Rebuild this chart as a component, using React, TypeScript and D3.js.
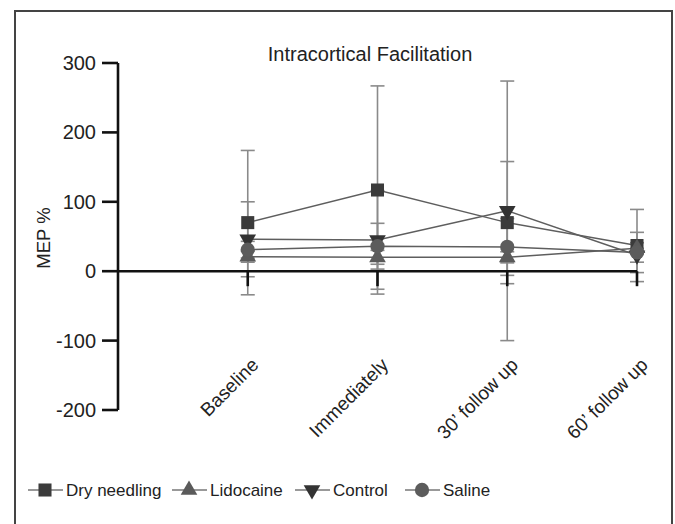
import React from 'react';
import * as d3 from 'd3';

const categories = ['Baseline', 'Immediately', '30\u2019 follow up', '60\u2019 follow up'];
const yTicks = [-200, -100, 0, 100, 200, 300];

const dryNeedling = [70, 117, 70, 37];
const dryNeedlingSd = [104, 150, 88, 52];
const lidocaine = [21, 20, 20, 33];
const lidocaineSd = [8, 10, 8, 8];
const control = [46, 45, 87, 23];
const controlSd = [54, 71, 187, 10];
const saline = [31, 36, 35, 27];
const salineSd = [12, 33, 41, 29];

const W = 675, H = 524;
const font = '"Liberation Sans", Arial, Helvetica, sans-serif';

const series = [
    { name: 'Dry needling', values: dryNeedling, sd: dryNeedlingSd, symbol: d3.symbolSquare, size: 170, rotate: 0, fill: '#3b3b3b' },
    { name: 'Lidocaine', values: lidocaine, sd: lidocaineSd, symbol: d3.symbolTriangle, size: 120, rotate: 0, fill: '#5a5a5a' },
    { name: 'Control', values: control, sd: controlSd, symbol: d3.symbolTriangle, size: 120, rotate: 180, fill: '#333' },
    { name: 'Saline', values: saline, sd: salineSd, symbol: d3.symbolCircle, size: 160, rotate: 0, fill: '#5c5c5c' },
];

const x = d3.scaleLinear().domain([0, 4]).range([118, 637]);
const y = d3.scaleLinear().domain([-200, 300]).range([410, 63]);
const xi = (i: number) => x(i + 1);

const line = d3.line<number>()
    .x((_, i) => xi(i))
    .y((d) => y(d));

const App = () => {
    const legendX = [28, 172, 295, 405];
    return (
        <svg width={W} height={H} style={{ position: 'absolute', left: 0, top: 0, background: '#fff' }} fontFamily={font}>
            {/* frame */}
            <rect x={15} y={11} width={657} height={530} fill="none" stroke="#444" strokeWidth={2} />

            <text x={370} y={61} textAnchor="middle" fontSize={20} fill="#222">Intracortical Facilitation</text>

            {/* error bars */}
            {series.map((s) => (
                <g key={s.name + 'err'} stroke="#8a8a8a" strokeWidth={1.6}>
                    {s.values.map((v, i) => {
                        const cx = xi(i), top = y(v + s.sd[i]), bot = y(v - s.sd[i]);
                        return (
                            <g key={i}>
                                <line x1={cx} x2={cx} y1={top} y2={bot} />
                                <line x1={cx - 7} x2={cx + 7} y1={top} y2={top} />
                                <line x1={cx - 7} x2={cx + 7} y1={bot} y2={bot} />
                            </g>
                        );
                    })}
                </g>
            ))}

            {/* axes */}
            <g stroke="#111" strokeWidth={2.6}>
                <line x1={118} x2={118} y1={y(300)} y2={y(-200)} />
                {yTicks.map((t) => (
                    <line key={t} x1={102} x2={118} y1={y(t)} y2={y(t)} />
                ))}
                <line x1={118} x2={x(4)} y1={y(0)} y2={y(0)} />
                {categories.map((c, i) => (
                    <line key={c} x1={xi(i)} x2={xi(i)} y1={y(0)} y2={y(0) + 15} />
                ))}
            </g>
            {yTicks.map((t) => (
                <text key={t} x={96} y={y(t) + 7} textAnchor="end" fontSize={20} fill="#222">{t}</text>
            ))}
            <text transform={`translate(50,238) rotate(-90)`} textAnchor="middle" fontSize={18.5} fill="#222">MEP %</text>
            {categories.map((c, i) => (
                <text key={c} transform={`translate(${xi(i) + 12},366) rotate(-45)`} textAnchor="end" fontSize={19} fill="#222">{c}</text>
            ))}

            {/* lines */}
            {series.map((s) => (
                <path key={s.name + 'line'} d={line(s.values) || ''} fill="none" stroke="#5e5e5e" strokeWidth={1.5} />
            ))}

            {/* markers */}
            {series.map((s) => (
                <g key={s.name + 'pts'}>
                    {s.values.map((v, i) => (
                        <path key={i} d={d3.symbol(s.symbol, s.size)() || ''} fill={s.fill}
                            transform={`translate(${xi(i)},${y(v)}) rotate(${s.rotate})`} />
                    ))}
                </g>
            ))}

            {/* legend */}
            {series.map((s, k) => (
                <g key={s.name + 'leg'} transform={`translate(${legendX[k]},490)`}>
                    <line x1={0} x2={35} y1={0} y2={0} stroke="#777" strokeWidth={1.6} />
                    <path d={d3.symbol(s.symbol, s.size)() || ''} fill={s.fill} transform={`translate(17,0) rotate(${s.rotate})`} />
                    <text x={38} y={6} fontSize={17} fill="#222">{s.name}</text>
                </g>
            ))}
        </svg>
    );
};

export default App;
